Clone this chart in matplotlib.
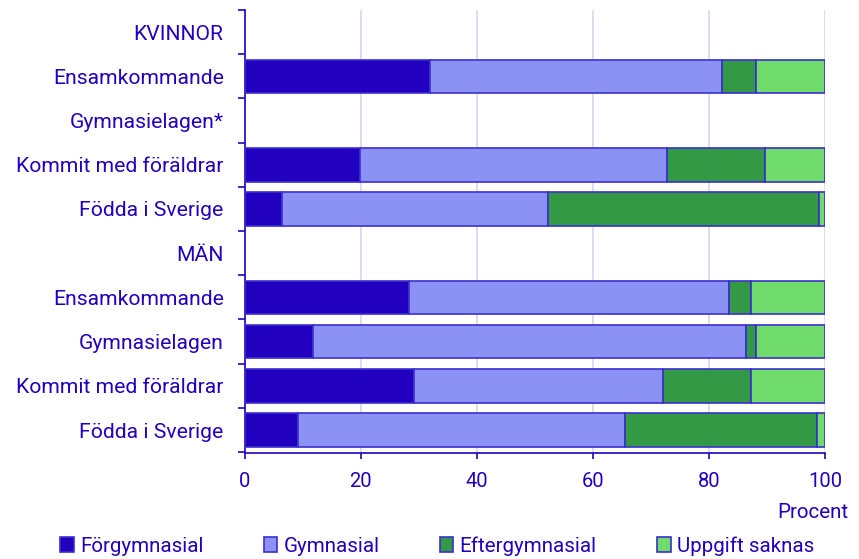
import matplotlib
matplotlib.use('Agg')
import matplotlib.pyplot as plt
import numpy as np
from matplotlib.patches import Patch

plt.rcParams['font.family'] = ['Roboto', 'DejaVu Sans']

# ========== Data ==========
rader = ['KVINNOR', 'Ensamkommande', 'Gymnasielagen*', 'Kommit med föräldrar', 'Födda i Sverige',
         'MÄN', 'Ensamkommande', 'Gymnasielagen', 'Kommit med föräldrar', 'Födda i Sverige']
forgymnasial = [0, 31.9, 0, 19.9, 6.5, 0, 28.3, 11.8, 29.2, 9.2]
gymnasial = [0, 50.3, 0, 52.9, 45.8, 0, 55.1, 74.6, 42.9, 56.3]
eftergymnasial = [0, 5.9, 0, 16.8, 46.6, 0, 3.9, 1.7, 15.1, 33.1]
uppgift_saknas = [0, 11.9, 0, 10.4, 1.1, 0, 12.7, 11.9, 12.8, 1.4]
serier = ['Förgymnasial', 'Gymnasial', 'Eftergymnasial', 'Uppgift saknas']
farger = ['#2200c0', '#8c92f4', '#339944', '#6fdb6a']
xticks = [0, 20, 40, 60, 80, 100]

TEXT = '#2200c0'
EDGE = '#3a2fd0'
FS = 15.2

fig = plt.figure(figsize=(8.59, 5.59), dpi=100)
ax = fig.add_axes([244.5 / 859, 1 - 453 / 559, 580.5 / 859, 443 / 559])

y = np.arange(len(rader))
left = np.zeros(len(rader))
for vals, col in zip([forgymnasial, gymnasial, eftergymnasial, uppgift_saknas], farger):
    vals = np.array(vals)
    mask = vals > 0
    ax.barh(y[mask], vals[mask], left=left[mask], height=0.76, color=col,
            edgecolor=EDGE, linewidth=1.2, zorder=3)
    left += vals

ax.set_xlim(0, 100)
ax.set_ylim(9.52, -0.5)
ax.set_xticks(xticks)
ax.set_xticklabels([str(t) for t in xticks], fontsize=14.5, color=TEXT)
ax.set_yticks(y)
ax.set_yticklabels(rader, fontsize=FS, color=TEXT)
ax.set_yticks(np.arange(-0.5, 10, 1), minor=True)
ax.tick_params(axis='y', which='major', length=0, pad=15)
ax.tick_params(axis='y', which='minor', length=5, color=TEXT, width=1.2)
ax.tick_params(axis='x', length=4, color=TEXT, width=1.2, pad=9.5)
ax.grid(True, axis='x', color='#d6d6f0', linewidth=1.2, zorder=0)

for s in ['top', 'right']:
    ax.spines[s].set_visible(False)
for s in ['left', 'bottom']:
    ax.spines[s].set_color(TEXT)
    ax.spines[s].set_linewidth(1.2)

fig.text(848 / 859, 1 - 512 / 559, 'Procent', ha='right', va='center', fontsize=14.8, color=TEXT)

handles = [Patch(facecolor=c, edgecolor=EDGE, linewidth=1.2) for c in farger]
leg = fig.legend(handles, serier, loc='center', bbox_to_anchor=(0.509, 1 - 546 / 559), ncol=4,
                 frameon=False, fontsize=14.8, handlelength=0.65, handleheight=0.7,
                 handletextpad=0.3, columnspacing=2.95, borderpad=0, borderaxespad=0)
for t in leg.get_texts():
    t.set_color(TEXT)

plt.savefig('out.png', dpi=100)
plt.close()
